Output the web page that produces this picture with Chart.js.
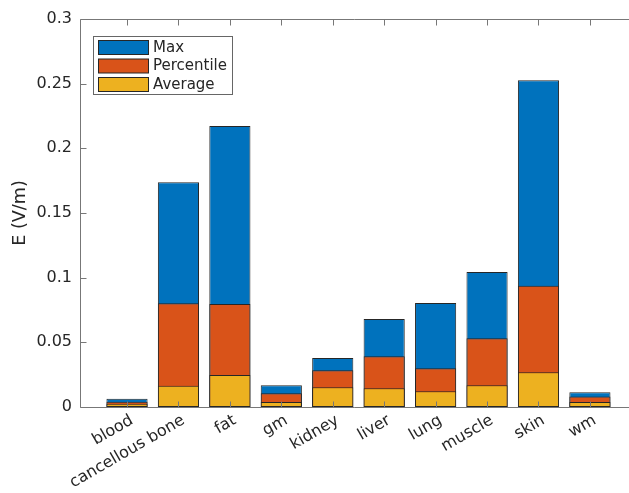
<!DOCTYPE html>
<html>
<head>
<meta charset="utf-8">
<script src="https://cdn.jsdelivr.net/npm/chart.js@4"></script>
<style>
html, body { margin: 0; padding: 0; background: #fff; }
#wrap { width: 629px; height: 493px; }
</style>
</head>
<body>
<div id="wrap"><canvas id="chart"></canvas></div>
<script>
var categories = ["blood", "cancellous bone", "fat", "gm", "kidney", "liver", "lung", "muscle", "skin", "wm"];
var maxValues = [0.0064, 0.1738, 0.2173, 0.0168, 0.0379, 0.0680, 0.0804, 0.1044, 0.2526, 0.0114];
var percentileValues = [0.0040, 0.0802, 0.0797, 0.0106, 0.0284, 0.0392, 0.0299, 0.0531, 0.0938, 0.0081];
var averageValues = [0.0025, 0.0165, 0.0247, 0.0039, 0.0152, 0.0145, 0.0121, 0.0168, 0.0268, 0.0039];
var seriesNames = ["Max", "Percentile", "Average"];
var yTicks = [0, 0.05, 0.1, 0.15, 0.2, 0.25, 0.3];
var yTickLabels = ["0", "0.05", "0.1", "0.15", "0.2", "0.25", "0.3"];

var FONT = "'DejaVu Sans', sans-serif";
var TEXT = '#262626';
var AXIS = '#777';

function toPoints(values) {
  return values.map(function(v, i) { return { x: i + 1, y: v }; });
}

// matlab style box, inward ticks and legend inside the axes
var matlabAxes = {
  id: 'matlabAxes',
  afterDatasetsDraw: function(chart) {
    var ctx = chart.ctx, a = chart.chartArea;
    var xs = chart.scales.x, ys = chart.scales.y;
    ctx.save();
    ctx.strokeStyle = AXIS;
    ctx.lineWidth = 1;
    ctx.beginPath();
    var l = Math.round(a.left) + 0.5, t = Math.round(a.top) + 0.5, b = Math.round(a.bottom) + 0.5;
    ctx.moveTo(a.right, t); ctx.lineTo(l, t); ctx.lineTo(l, b); ctx.lineTo(a.right, b);
    categories.forEach(function(c, i) {
      var px = Math.round(xs.getPixelForValue(i + 1)) + 0.5;
      ctx.moveTo(px, b); ctx.lineTo(px, b - 6);
      ctx.moveTo(px, t); ctx.lineTo(px, t + 6);
    });
    yTicks.forEach(function(v) {
      var py = Math.round(ys.getPixelForValue(v)) + 0.5;
      ctx.moveTo(l, py); ctx.lineTo(l + 6, py);
    });
    ctx.stroke();

    // legend
    var bx = 93.5, by = 36.5, bw = 139, bh = 58;
    ctx.fillStyle = '#fff';
    ctx.fillRect(bx, by, bw, bh);
    ctx.strokeStyle = '#666';
    ctx.strokeRect(bx, by, bw, bh);
    ctx.font = '15px ' + FONT;
    ctx.textBaseline = 'middle';
    ctx.textAlign = 'left';
    seriesNames.forEach(function(name, i) {
      var ds = chart.data.datasets.filter(function(d) { return d.label === name; })[0];
      var sy = 40.5 + i * 18.5;
      ctx.fillStyle = ds.backgroundColor;
      ctx.fillRect(98.5, sy, 50, 14);
      ctx.strokeStyle = '#262626';
      ctx.strokeRect(98.5, sy, 50, 14);
      ctx.fillStyle = TEXT;
      ctx.fillText(name, 153, sy + 7.5);
    });
    ctx.restore();
  }
};

var barStyle = {
  borderColor: '#262626',
  borderWidth: 1,
  borderSkipped: false,
  grouped: false,
  categoryPercentage: 1,
  barPercentage: 0.8
};

var ctx = document.getElementById('chart').getContext('2d');
var chart = new Chart(ctx, {
  type: 'bar',
  data: {
    datasets: [
      Object.assign({ label: seriesNames[0], data: toPoints(maxValues), backgroundColor: '#0072BD', order: 3 }, barStyle),
      Object.assign({ label: seriesNames[1], data: toPoints(percentileValues), backgroundColor: '#D95319', order: 2 }, barStyle),
      Object.assign({ label: seriesNames[2], data: toPoints(averageValues), backgroundColor: '#EDB120', order: 1 }, barStyle)
    ]
  },
  options: {
    responsive: true,
    maintainAspectRatio: false,
    animation: false,
    devicePixelRatio: 1,
    layout: { padding: { top: 19, right: 0, left: 0, bottom: 0 } },
    plugins: { legend: { display: false }, tooltip: { enabled: false } },
    scales: {
      x: {
        type: 'linear',
        offset: false,
        min: 0.086,
        max: 10.76,
        grid: { display: false, drawTicks: false },
        border: { display: false },
        afterBuildTicks: function(s) {
          s.ticks = categories.map(function(c, i) { return { value: i + 1 }; });
        },
        ticks: {
          autoSkip: false,
          maxRotation: 30,
          minRotation: 30,
          padding: 4,
          labelOffset: 5,
          color: TEXT,
          font: { size: 16, family: FONT },
          callback: function(v) { return categories[Math.round(v) - 1]; }
        },
        afterFit: function(s) { s.height = 86; }
      },
      y: {
        min: 0,
        max: 0.3,
        grid: { display: false, drawTicks: false },
        border: { display: false },
        afterBuildTicks: function(s) {
          s.ticks = yTicks.map(function(v) { return { value: v }; });
        },
        ticks: {
          padding: 8,
          color: TEXT,
          font: { size: 16, family: FONT },
          callback: function(v, i) { return yTickLabels[i]; }
        },
        title: {
          display: true,
          text: 'E (V/m)',
          color: TEXT,
          font: { size: 17.6, family: FONT },
          padding: { top: 10, bottom: 0 }
        },
        afterFit: function(s) { s.width = 80; }
      }
    }
  },
  plugins: [matlabAxes]
});
</script>
</body>
</html>
